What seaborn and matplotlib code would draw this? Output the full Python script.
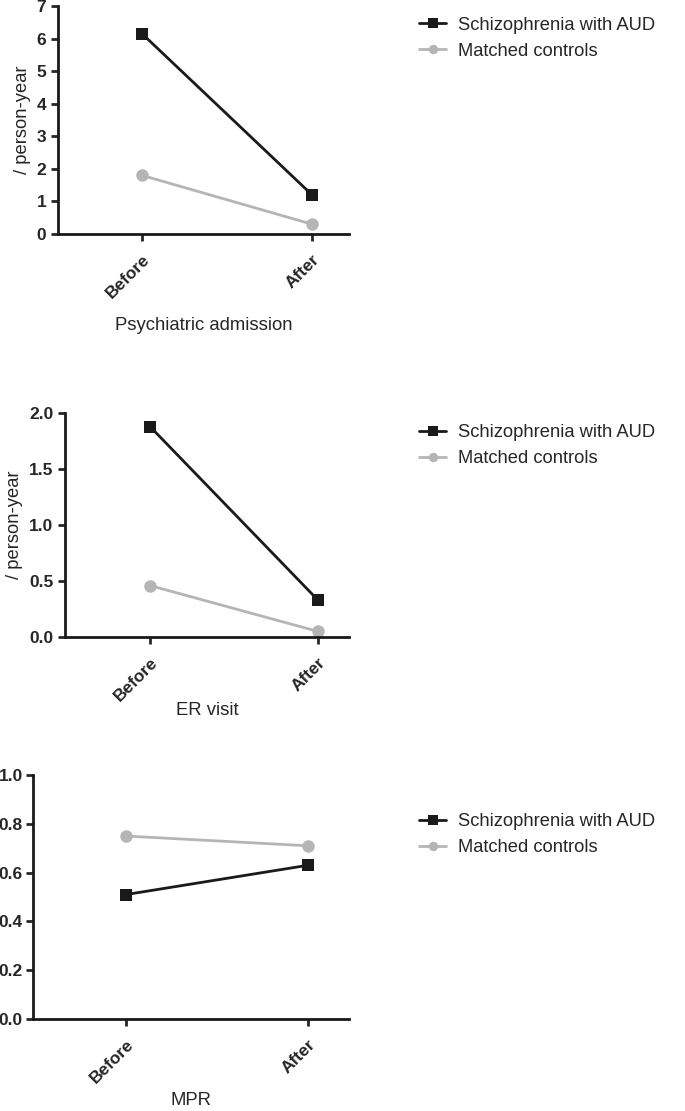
import pandas as pd
import matplotlib.pyplot as plt
import seaborn as sns

# =====================================
# Data
# =====================================

periods = ["Before", "After"]
groups = ["Schizophrenia with AUD", "Matched controls"]

admission_aud = [6.15, 1.2]
admission_ctrl = [1.8, 0.3]

er_aud = [1.88, 0.33]
er_ctrl = [0.46, 0.05]

mpr_aud = [0.51, 0.63]
mpr_ctrl = [0.75, 0.71]


def long_df(aud, ctrl):
    return pd.DataFrame({
        "period": periods * 2,
        "value": aud + ctrl,
        "group": [groups[0]] * 2 + [groups[1]] * 2,
    })


# =====================================
# Style
# =====================================

sns.set_theme(style="ticks")
plt.rcParams["font.family"] = ["Liberation Sans", "DejaVu Sans"]
plt.rcParams["axes.linewidth"] = 2
plt.rcParams["xtick.major.width"] = 2
plt.rcParams["ytick.major.width"] = 2
plt.rcParams["xtick.major.size"] = 5
plt.rcParams["ytick.major.size"] = 5

palette = {groups[0]: "#1a1a1a", groups[1]: "#b5b5b5"}
markers = {groups[0]: "s", groups[1]: "o"}

fig = plt.figure(figsize=(6.85, 11.11), dpi=100)

panels = [
    # data, axes rect, ylim, yticks, fmt, ytick pad, xlim, xlabel, xlabelpad, ylabel, legend y
    (long_df(admission_aud, admission_ctrl), [0.0847, 0.7894, 0.425, 0.2052],
     (0, 7), range(0, 8), "{:.0f}", 3.5, (-0.494, 1.218), "Psychiatric admission", 11,
     "/ person-year", 1.0),
    (long_df(er_aud, er_ctrl), [0.0949, 0.4266, 0.4146, 0.2016],
     (0, 2), [0, 0.5, 1.0, 1.5, 2.0], "{:.1f}", 3.5, (-0.506, 1.185), "ER visit", -2,
     "/ person-year", 0.633),
    (long_df(mpr_aud, mpr_ctrl), [0.048, 0.0828, 0.461, 0.2196],
     (0, 1), [0, 0.2, 0.4, 0.6, 0.8, 1.0], "{:.1f}", 2.2, (-0.511, 1.225), "MPR", 4,
     None, 0.283),
]

for df, rect, ylim, yticks, fmt, ypad, xlim, xlabel, xpad, ylabel, leg_y in panels:
    ax = fig.add_axes(rect)
    sns.lineplot(
        data=df, x="period", y="value", hue="group", style="group",
        palette=palette, markers=markers, dashes=False,
        markersize=9, linewidth=2, markeredgewidth=0, ax=ax,
    )
    ax.set_ylim(*ylim)
    ax.set_yticks(list(yticks))
    ax.set_yticklabels([fmt.format(v) for v in yticks], fontsize=12.5, fontweight="bold")
    ax.tick_params(axis="y", pad=ypad)
    ax.set_xlim(*xlim)
    ax.set_xticks([0, 1])
    ax.set_xticklabels(periods, fontsize=12.5, fontweight="bold",
                       rotation=45, ha="right", rotation_mode="anchor")
    ax.tick_params(axis="x", pad=8)
    ax.set_xlabel(xlabel, fontsize=13.3, labelpad=xpad)
    if ylabel:
        ax.set_ylabel(ylabel, fontsize=13.2, labelpad=4)
    else:
        ax.set_ylabel("")
    sns.despine(ax=ax)
    for s in ax.spines.values():
        s.set_color("#1a1a1a")

    handles, labels = ax.get_legend_handles_labels()
    ax.legend(handles, labels, loc="upper left", bbox_to_anchor=(0.588, leg_y),
              bbox_transform=fig.transFigure, frameon=False, fontsize=13.2,
              handlelength=1.45, handletextpad=0.65, labelspacing=0.5,
              markerscale=0.75)

fig.savefig("out.png", dpi=100)
plt.close()
